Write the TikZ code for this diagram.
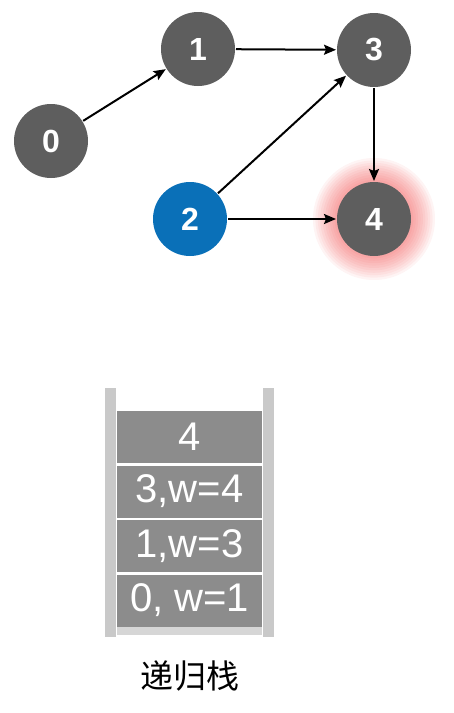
\documentclass[tikz,border=0pt]{standalone}
\usepackage{fontspec}
\setmainfont{Liberation Sans}
\newfontfamily\cjkfont{Noto Sans CJK SC}
\usepackage{tikz}
\usetikzlibrary{arrows.meta}
\definecolor{nodegray}{HTML}{5E5E5E}
\definecolor{nodeblue}{HTML}{0A70B8}
\definecolor{cellgray}{HTML}{8C8C8C}
\definecolor{wallgray}{HTML}{C9C9C9}
\definecolor{bargray}{HTML}{D6D6D6}
\definecolor{glowred}{HTML}{F03C3C}

\begin{document}
\begin{tikzpicture}[x=1pt,y=-1pt,->,>={Stealth[length=12pt,width=10pt,inset=2pt]},line width=2pt,
  main node/.style={circle,fill=nodegray,draw=none,minimum size=74pt,inner sep=0pt,
    text=white,font=\bfseries\fontsize{32}{32}\selectfont},
  start node/.style={main node,fill=nodeblue},
  cell node/.style={rectangle,fill=cellgray,draw=none,minimum width=145pt,minimum height=52pt,
    inner sep=0pt,text=white,font=\fontsize{40}{40}\selectfont}]

\useasboundingbox (0,0) rectangle (454,713);

% glow round the node that is being visited
\foreach \i in {1,...,10}{
  \fill[glowred,opacity=0.06] (374,219) circle ({37+2.4*\i});
}

\node[main node] (0) at (51,141) {0};
\node[main node] (1) at (198,49) {1};
\node[start node] (2) at (190,219) {2};
\node[main node] (3) at (374,50) {3};
\node[main node] (4) at (374,219) {4};

\path
(0) edge (1)
(1) edge (3)
(2) edge (3)
    edge (4)
(3) edge (4);

% the stack
\fill[wallgray] (105,388) rectangle (116,637);
\fill[wallgray] (263,388) rectangle (274,637);
\fill[bargray] (117,626) rectangle (262,635);

\foreach \t [count=\c] in {4,{3,w=4},{1,w=3},{0, w=1}}{
  \node[cell node] (s\c) at (189.5,{382.5+54.5*\c}) {\t};
}

\node[font=\cjkfont\fontsize{33}{33}\selectfont] (cap) at (189.5,676) {递归栈};
\end{tikzpicture}
\end{document}
